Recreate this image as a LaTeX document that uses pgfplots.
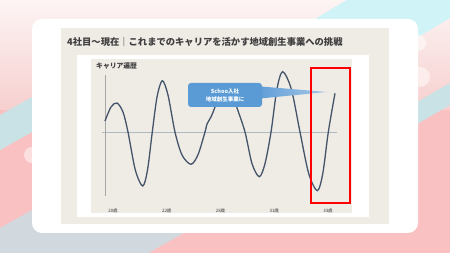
\documentclass[border=0pt]{standalone}
\usepackage{fontspec}
\setmainfont{Noto Sans CJK JP}
\usepackage{pgfplots}
\pgfplotsset{compat=1.18}
\definecolor{bgtop}{HTML}{FDF4F4}
\definecolor{bgmid}{HTML}{F7CFCF}
\definecolor{bgpink}{HTML}{F9C1C1}
\definecolor{bgblue}{HTML}{C9E2E6}
\definecolor{bggray}{HTML}{D1D9DF}
\definecolor{bgcyan}{HTML}{CFF3F7}
\definecolor{panel}{HTML}{EFEBE5}
\definecolor{titlegray}{HTML}{3F3F3F}
\definecolor{curve}{HTML}{44546A}
\definecolor{zeroline}{HTML}{B0B8C6}
\definecolor{axline}{HTML}{A6A6A6}
\definecolor{callout}{HTML}{5B9BD5}
\definecolor{calloutlight}{HTML}{A9C8E8}
\begin{document}
\begin{tikzpicture}
\begin{scope}[x=1pt,y=-1pt]
\useasboundingbox (0,0) rectangle (450,253);
\clip (0,0) rectangle (450,253);
% background
\shade[top color=bgtop, bottom color=bgmid] (0,0) rectangle (450,110);
\fill[bgpink] (0,110) rectangle (450,253);
\fill[bgblue] (0,115) -- (150,31) -- (150,66) -- (0,150) -- cycle;
\fill[bggray] (0,228) -- (250,88) -- (250,196) -- (0,336) -- cycle;
\fill[bgcyan] (300,28) -- (450,-62) -- (450,18) -- (300,108) -- cycle;
\fill[bgblue] (400,112) -- (450,83) -- (450,105) -- (400,134) -- cycle;
\fill[white, opacity=0.5] (32,155) circle (8);
\fill[white, opacity=0.5] (418,43) circle (8);
\fill[white, opacity=0.5] (420,77) circle (10);
% card
\fill[white, rounded corners=10pt] (32,19) rectangle (418,233);
\fill[panel] (61,28) rectangle (389,224);
\fill[white] (77,55) rectangle (369,217);
\fill[panel] (91,59) rectangle (352,213);
\node[anchor=west, inner sep=0, text=titlegray, font=\bfseries\fontsize{9.3}{10}\selectfont] at (67,42) {4社目～現在｜これまでのキャリアを活かす地域創生事業への挑戦};
\node[anchor=west, inner sep=0, text=titlegray, font=\bfseries\fontsize{6.8}{8}\selectfont] at (96,66) {キャリア遍歴};
\end{scope}
\begin{axis}[
  at={(102.25pt,-198pt)}, anchor=south west,
  width=236.5pt, height=132pt, scale only axis,
  xmin=-0.2, xmax=4.2, ymin=-11, ymax=11,
  axis line style={draw=none}, major tick length=0pt,
  ytick=\empty, xtick={0,1,2,3,4},
  xticklabels={20歳,22歳,28歳,31歳,33歳},
  xticklabel style={font=\fontsize{4.5}{5}\selectfont, text=titlegray, yshift=-7pt},
  clip=false,
]
\addplot[line width=0.7pt, color=zeroline] coordinates {(-0.205,0) (4.167,0)};
\addplot[line width=0.8pt, color=axline] coordinates {(-0.149,9.5) (-0.149,-10.67)};
\addplot[smooth, line width=1.3pt, color=curve] coordinates {
(-0.149,1.83) (-0.037,4.17) (0.074,4.83) (0.186,3.33) (0.279,0)
(0.415,-6.33) (0.553,-9.0) (0.642,-6.33) (0.731,0) (0.819,5.83)
(0.917,8.55) (1.023,6.17) (1.153,0) (1.284,-3.83) (1.451,-5.38)
(1.581,-3.8) (1.712,0) (1.749,1.33) (1.823,2.5) (1.898,4.17)
(1.991,6.67) (2.102,7.67) (2.214,6.33) (2.301,4.17) (2.456,0)
(2.586,-5.27) (2.722,-7.45) (2.828,-5.27) (2.940,0) (3.049,7.1)
(3.157,10.05) (3.319,7.1) (3.479,0) (3.641,-6.92) (3.801,-9.78)
(3.903,-6.92) (4.006,0) (4.130,6.45)
};
\end{axis}
\begin{scope}[x=1pt,y=-1pt]
\shade[left color=callout, right color=calloutlight] (255,86) -- (327,92) -- (255,99) -- cycle;
\fill[callout, rounded corners=3pt] (188,83) rectangle (262,107);
\node[inner sep=0, text=white, font=\bfseries\fontsize{5.5}{6}\selectfont] at (225,91) {Schoo入社};
\node[inner sep=0, text=white, font=\bfseries\fontsize{5.5}{6}\selectfont] at (225,99.5) {地域創生事業に};
\draw[red, line width=2pt] (311,68) rectangle (350,203);
\end{scope}
\end{tikzpicture}
\end{document}
